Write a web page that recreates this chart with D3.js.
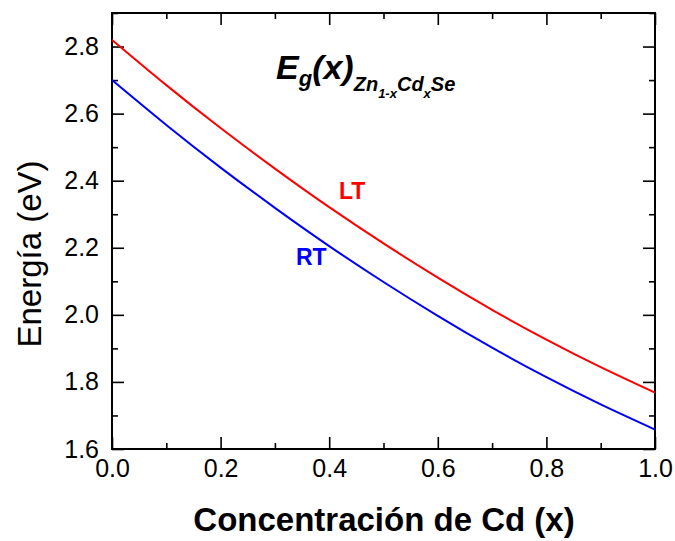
<!DOCTYPE html>
<html>
<head>
<meta charset="utf-8">
<script src="https://cdn.jsdelivr.net/npm/d3@7"></script>
<style>
  body { margin: 0; background: #fff; }
  svg { display: block; font-family: "Liberation Sans", Arial, sans-serif; }
</style>
</head>
<body>
<svg id="chart" width="675" height="541"></svg>
<script>
"use strict";

// Cd concentration x
var concentration = [0.0, 0.1, 0.2, 0.3, 0.4, 0.5, 0.6, 0.7, 0.8, 0.9, 1.0];
// band gap at low temperature (eV)
var energyLT = [2.820, 2.685, 2.557, 2.436, 2.321, 2.213, 2.111, 2.015, 1.926, 1.844, 1.768];
// band gap at room temperature (eV)
var energyRT = [2.700, 2.566, 2.439, 2.319, 2.205, 2.098, 1.997, 1.902, 1.814, 1.733, 1.658];

var xMajor = [0.0, 0.2, 0.4, 0.6, 0.8, 1.0];
var xMinor = [0.1, 0.3, 0.5, 0.7, 0.9];
var yMajor = [1.6, 1.8, 2.0, 2.2, 2.4, 2.6, 2.8];
var yMinor = [1.7, 1.9, 2.1, 2.3, 2.5, 2.7, 2.9];

var svg = d3.select('#chart');
var plot = { left: 112, right: 655, top: 13, bottom: 449 };

var x = d3.scaleLinear().domain([0, 1]).range([plot.left, plot.right]);
var y = d3.scaleLinear().domain([1.6, 2.9]).range([plot.bottom, plot.top]);

var fmt = d3.format('.1f');

function drawAxis(axis, tx, ty) {
    var g = svg.append('g')
        .attr('transform', `translate(${tx},${ty})`)
        .call(axis);
    g.select('.domain').remove();
    g.selectAll('.tick line').attr('stroke', '#000').attr('stroke-width', 1.6);
    g.selectAll('.tick text')
        .attr('fill', '#000')
        .style('font-size', '25px')
        .style('font-family', '"Liberation Sans", Arial, sans-serif');
    return g;
}

// bottom
drawAxis(d3.axisBottom(x).tickValues(xMajor).tickFormat(fmt).tickSize(-12).tickPadding(10).tickSizeOuter(0), 0, plot.bottom);
drawAxis(d3.axisBottom(x).tickValues(xMinor).tickFormat('').tickSize(-6).tickSizeOuter(0), 0, plot.bottom);
// top
drawAxis(d3.axisTop(x).tickValues(xMajor).tickFormat('').tickSize(-12).tickSizeOuter(0), 0, plot.top);
drawAxis(d3.axisTop(x).tickValues(xMinor).tickFormat('').tickSize(-6).tickSizeOuter(0), 0, plot.top);
// left
drawAxis(d3.axisLeft(y).tickValues(yMajor).tickFormat(fmt).tickSize(-12).tickPadding(13).tickSizeOuter(0), plot.left, 0);
drawAxis(d3.axisLeft(y).tickValues(yMinor).tickFormat('').tickSize(-6).tickSizeOuter(0), plot.left, 0);
// right
drawAxis(d3.axisRight(y).tickValues(yMajor).tickFormat('').tickSize(-12).tickSizeOuter(0), plot.right, 0);
drawAxis(d3.axisRight(y).tickValues(yMinor).tickFormat('').tickSize(-6).tickSizeOuter(0), plot.right, 0);

// frame
svg.append('rect')
    .attr('x', plot.left)
    .attr('y', plot.top)
    .attr('width', plot.right - plot.left)
    .attr('height', plot.bottom - plot.top)
    .attr('fill', 'none')
    .attr('stroke', '#000')
    .attr('stroke-width', 2);

var line = d3.line()
    .x(d => x(d[0]))
    .y(d => y(d[1]))
    .curve(d3.curveNatural);

svg.append('path')
    .datum(d3.zip(concentration, energyLT))
    .attr('d', line)
    .attr('fill', 'none')
    .attr('stroke', '#ff0000')
    .attr('stroke-width', 2);

svg.append('path')
    .datum(d3.zip(concentration, energyRT))
    .attr('d', line)
    .attr('fill', 'none')
    .attr('stroke', '#0000ff')
    .attr('stroke-width', 2);

// series labels
svg.append('text')
    .attr('x', 339).attr('y', 199)
    .attr('fill', '#ff0000')
    .style('font-size', '23px').style('font-weight', 'bold')
    .text('LT');

svg.append('text')
    .attr('x', 296).attr('y', 265)
    .attr('fill', '#0000ff')
    .style('font-size', '23px').style('font-weight', 'bold')
    .text('RT');

// title formula
var title = svg.append('text')
    .attr('x', 276).attr('y', 79)
    .style('font-weight', 'bold')
    .style('font-style', 'italic')
    .attr('fill', '#000');
title.append('tspan').style('font-size', '34px').text('E');
title.append('tspan').style('font-size', '22px').attr('dy', 7).text('g');
title.append('tspan').style('font-size', '34px').attr('dy', -7).text('(x)');
title.append('tspan').style('font-size', '20px').attr('dy', 12).text('Zn');
title.append('tspan').style('font-size', '13px').attr('dy', 7).text('1-x');
title.append('tspan').style('font-size', '20px').attr('dy', -7).text('Cd');
title.append('tspan').style('font-size', '13px').attr('dy', 7).text('x');
title.append('tspan').style('font-size', '20px').attr('dy', -7).text('Se');

// axis titles
svg.append('text')
    .attr('x', 384).attr('y', 531)
    .attr('text-anchor', 'middle')
    .style('font-size', '33px').style('font-weight', 'bold')
    .text('Concentración de Cd (x)');

svg.append('text')
    .attr('transform', 'translate(41,254) rotate(-90)')
    .attr('text-anchor', 'middle')
    .style('font-size', '33px')
    .text('Energía (eV)');
</script>
</body>
</html>
